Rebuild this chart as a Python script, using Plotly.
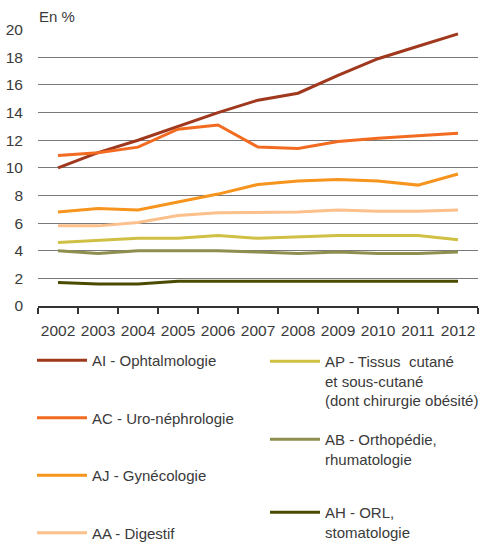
import plotly.graph_objects as go

years = ["2002", "2003", "2004", "2005", "2006", "2007", "2008", "2009", "2010", "2011", "2012"]

ai_ophtalmo = [10.0, 11.1, 12.0, 13.0, 14.0, 14.9, 15.4, 16.7, 17.9, 18.8, 19.7]
ac_uro = [10.9, 11.1, 11.5, 12.8, 13.1, 11.5, 11.4, 11.9, 12.15, 12.3, 12.5]
aj_gyneco = [6.8, 7.05, 6.95, 7.5, 8.1, 8.8, 9.05, 9.15, 9.05, 8.75, 9.55]
aa_digestif = [5.8, 5.8, 6.05, 6.55, 6.75, 6.8, 6.8, 6.95, 6.85, 6.85, 6.95]
ap_tissus = [4.6, 4.75, 4.9, 4.9, 5.1, 4.9, 5.0, 5.1, 5.1, 5.1, 4.8]
ab_ortho = [4.0, 3.8, 4.0, 4.0, 4.0, 3.9, 3.8, 3.9, 3.8, 3.8, 3.9]
ah_orl = [1.7, 1.6, 1.6, 1.8, 1.8, 1.8, 1.8, 1.8, 1.8, 1.8, 1.8]

FONT = "Liberation Sans, Arial, sans-serif"
TEXT = "#3a3a3a"

W, H = 480, 545

# name, values, colour, legend id
series = [
    ("AI - Ophtalmologie", ai_ophtalmo, "#a0381e", "legend"),
    ("AC - Uro-néphrologie", ac_uro, "#f26b21", "legend"),
    ("AJ - Gynécologie", aj_gyneco, "#f7941d", "legend"),
    ("AA - Digestif", aa_digestif, "#fbc08c", "legend"),
    ("AP - Tissus  cutané<br>et sous-cutané<br>(dont chirurgie obésité)", ap_tissus, "#cfc044", "legend2"),
    ("AB - Orthopédie,<br>rhumatologie", ab_ortho, "#8e8e4e", "legend3"),
    ("AH - ORL,<br>stomatologie", ah_orl, "#4b4b00", "legend4"),
]

fig = go.Figure()
for index, (name, values, color, legend) in enumerate(series):
    fig.add_trace(
        go.Scatter(
            name=name,
            x=years,
            y=values,
            mode="lines",
            line={"color": color, "width": 3},
            legend=legend,
            legendgroup=str(index),
        )
    )


def legend_box(left_px, top_px, gap=0):
    # legends sit in the space under the plot, placed in container coords
    return {
        "xref": "container",
        "yref": "container",
        "x": left_px / W,
        "xanchor": "left",
        "y": 1 - top_px / H,
        "yanchor": "top",
        "font": {"size": 15},
        "tracegroupgap": gap,
        "itemwidth": 50,
        "valign": "top",
        "bgcolor": "rgba(0,0,0,0)",
    }


fig.update_layout(
    width=W,
    height=H,
    margin={"l": 38, "r": 2, "t": 29, "b": 239, "autoexpand": False},
    paper_bgcolor="white",
    plot_bgcolor="white",
    font={"family": FONT, "size": 15, "color": TEXT},
    legend=legend_box(32, 344, gap=35),
    legend2=legend_box(265, 345),
    legend3=legend_box(265, 423),
    legend4=legend_box(265, 496),
    annotations=[
        {
            "text": "En %",
            "xref": "paper",
            "yref": "paper",
            "x": 0,
            "y": 1,
            "xanchor": "left",
            "yanchor": "bottom",
            "showarrow": False,
            "xshift": -1,
            "yshift": 2,
            "font": {"size": 15},
        }
    ],
)

fig.update_xaxes(
    type="category",
    range=[-0.5, 10.5],
    tickson="boundaries",
    tickangle=0,
    ticks="outside",
    ticklen=6,
    tickwidth=1.5,
    tickcolor="#333333",
    ticklabelstandoff=9,
    showline=True,
    linecolor="#333333",
    linewidth=2,
    showgrid=False,
    tickfont={"size": 15.5},
)
fig.update_yaxes(
    range=[0, 20.05],
    dtick=2,
    showgrid=True,
    gridcolor="#7a7a7a",
    gridwidth=1.3,
    zeroline=False,
    showline=False,
    ticks="",
    ticklabelstandoff=14,
    tickfont={"size": 15.5},
)

# drop the default 8px page margin so the figure fills the window
fig.write_html(
    "out.html",
    config={"displayModeBar": False},
    post_script="document.body.style.margin = '0';",
)
